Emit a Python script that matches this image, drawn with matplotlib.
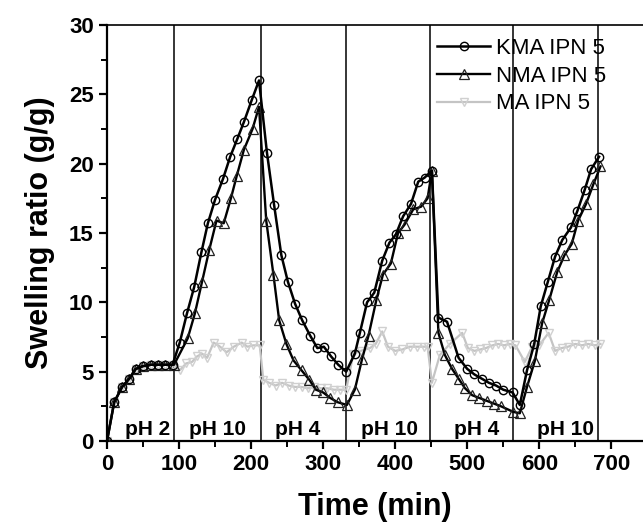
import numpy as np
import matplotlib
matplotlib.use("Agg")
import matplotlib.pyplot as plt
from matplotlib.ticker import MultipleLocator

plt.rcParams['font.family'] = ['Liberation Sans', 'DejaVu Sans']

# KMA IPN 5 (circles)
kma_t = [0, 10, 21, 31, 40, 50, 61, 71, 81, 91,
         101, 111, 121, 131, 140, 150, 161, 171, 181, 190, 201, 211,
         222, 232, 242, 251, 261, 271, 282, 292, 301, 311, 321, 332,
         344, 351, 361, 371, 382, 392, 401, 411, 422, 432, 441, 451,
         460, 472, 488, 500, 510, 520, 530, 540, 550, 563, 573,
         583, 593, 602, 612, 622, 632, 644, 653, 663, 672, 683]
kma_y = [0, 2.8, 3.9, 4.5, 5.2, 5.4, 5.5, 5.5, 5.5, 5.5,
         7.1, 9.2, 11.1, 13.6, 15.7, 17.4, 18.9, 20.5, 21.8, 23.0, 24.6, 26.0,
         20.8, 17.0, 13.4, 11.5, 9.9, 8.7, 7.6, 6.7, 6.8, 6.1, 5.5, 5.0,
         6.3, 7.8, 10.0, 10.7, 13.0, 14.3, 14.9, 16.2, 17.1, 18.7, 19.0, 19.5,
         8.9, 8.6, 6.0, 5.2, 4.8, 4.5, 4.2, 4.0, 3.7, 3.5, 2.6,
         5.1, 7.0, 9.7, 11.5, 13.3, 14.5, 15.4, 16.6, 18.1, 19.6, 20.5]

# NMA IPN 5 (up triangles)
nma_t = [0, 10, 21, 31, 40, 50, 61, 71, 81, 93,
         112, 122, 132, 142, 152, 162, 172, 180, 190, 202, 211,
         221, 231, 239, 249, 259, 270, 281, 290, 300, 310, 320, 333,
         344, 354, 363, 374, 383, 394, 404, 413, 425, 436, 445, 451,
         460, 469, 479, 488, 497, 507, 517, 527, 537, 547, 564, 573,
         583, 594, 604, 614, 625, 635, 645, 654, 665, 675, 685]
nma_y = [0, 2.8, 3.9, 4.5, 5.2, 5.4, 5.5, 5.5, 5.5, 5.5,
         7.4, 9.2, 11.5, 13.8, 15.9, 15.7, 17.5, 19.1, 21.0, 22.5, 24.1,
         15.9, 12.0, 8.7, 7.0, 5.8, 5.1, 4.4, 3.7, 3.5, 3.1, 2.8, 2.6,
         3.7, 5.9, 7.6, 10.2, 12.0, 12.8, 15.0, 15.6, 16.7, 16.9, 17.5, 19.5,
         7.8, 6.2, 5.2, 4.5, 3.8, 3.3, 3.1, 2.9, 2.7, 2.5, 2.1, 2.0,
         3.9, 5.8, 8.5, 10.2, 12.2, 13.4, 14.2, 15.9, 17.1, 18.5, 19.8]

# MA IPN 5 (down triangles, grey)
ma_t = [0, 10, 21, 31, 40, 50, 61, 71, 81, 91,
        101, 110, 118, 125, 132, 139, 148, 157, 166, 176, 187, 195, 203, 212,
        217, 225, 234, 243, 252, 261, 270, 279, 288, 297, 306, 315, 324, 332,
        342, 352, 365, 373, 382, 390, 400, 410, 420, 430, 440, 445,
        451, 462, 476, 493, 501, 510, 518, 526, 535, 543, 551, 559, 567,
        580, 590, 600, 613, 622, 631, 640, 650, 659, 668, 677, 685]
ma_y = [0, 2.8, 3.9, 4.5, 5.2, 5.4, 5.5, 5.5, 5.5, 5.5,
        5.1, 5.6, 5.7, 6.1, 6.3, 6.0, 7.1, 6.8, 6.4, 6.8, 7.1, 6.8, 6.9, 6.9,
        4.4, 4.2, 4.0, 4.2, 4.0, 3.9, 3.9, 3.8, 3.9, 3.8, 3.8, 3.7, 3.7, 3.7,
        6.3, 6.5, 6.7, 7.0, 7.9, 6.8, 6.5, 6.6, 6.8, 6.8, 6.8, 6.8,
        4.2, 6.2, 7.0, 7.8, 6.7, 6.5, 6.6, 6.7, 6.9, 7.0, 6.9, 7.0, 6.9,
        5.7, 6.8, 6.9, 7.8, 6.5, 6.7, 6.8, 7.0, 6.9, 7.0, 6.9, 7.0]

# pH change times and stage labels
switch_t = [93, 214, 332, 449, 564, 681]
ph_labels = ['pH 2', 'pH 10', 'pH 4', 'pH 10', 'pH 4', 'pH 10']
ph_label_x = [56, 154, 264, 392, 513, 636]

fig = plt.figure(figsize=(6.43, 5.25), dpi=100)
ax = fig.add_axes([107/643, 1 - 441/525, 1 - 107/643, (441 - 25)/525])

ax.plot(ma_t, ma_y, color='#c4c4c4', lw=1.6, marker='v', ms=6,
        mfc='none', mec='#d0d0d0', mew=1.0, label='MA IPN 5', zorder=2)
ax.plot(nma_t, nma_y, color='black', lw=1.7, marker='^', ms=6.5,
        mfc='none', mec='#222222', mew=0.9, label='NMA IPN 5', zorder=3)
ax.plot(kma_t, kma_y, color='black', lw=1.8, marker='o', ms=6,
        mfc='none', mec='black', mew=1.0, label='KMA IPN 5', zorder=4)

for t in switch_t:
    ax.axvline(t, color='black', lw=1.1, zorder=1)

for x, s in zip(ph_label_x, ph_labels):
    ax.text(x, 0.45, s, ha='center', va='baseline', fontsize=15,
            fontweight='bold')

ax.set_xlim(0, 744)
ax.set_ylim(0, 30)
ax.xaxis.set_major_locator(MultipleLocator(100))
ax.xaxis.set_minor_locator(MultipleLocator(50))
ax.yaxis.set_major_locator(MultipleLocator(5))
ax.yaxis.set_minor_locator(MultipleLocator(2.5))
ax.set_xticks(np.arange(0, 701, 100))

ax.spines['right'].set_visible(False)
ax.spines['left'].set_linewidth(1.6)
ax.spines['bottom'].set_linewidth(1.6)
ax.spines['top'].set_linewidth(1.2)
ax.tick_params(which='major', direction='out', length=6, width=1.6,
               labelsize=16, top=False, right=False)
ax.tick_params(which='minor', direction='out', length=4, width=1.4,
               top=False, right=False)
for lab in ax.get_xticklabels() + ax.get_yticklabels():
    lab.set_fontweight('bold')

ax.set_xlabel('Time (min)', fontsize=22, fontweight='bold', labelpad=12)
ax.set_ylabel('Swelling ratio (g/g)', fontsize=22, fontweight='bold',
              labelpad=10)

h, l = ax.get_legend_handles_labels()
ax.legend(h[::-1], l[::-1], loc='upper left',
          bbox_to_anchor=(437/643, 1 - 38/525), bbox_transform=fig.transFigure,
          frameon=False, fontsize=16, handlelength=2.4, handletextpad=0.25,
          labelspacing=0.3, borderpad=0, borderaxespad=0)

fig.savefig('out.png', dpi=100)
